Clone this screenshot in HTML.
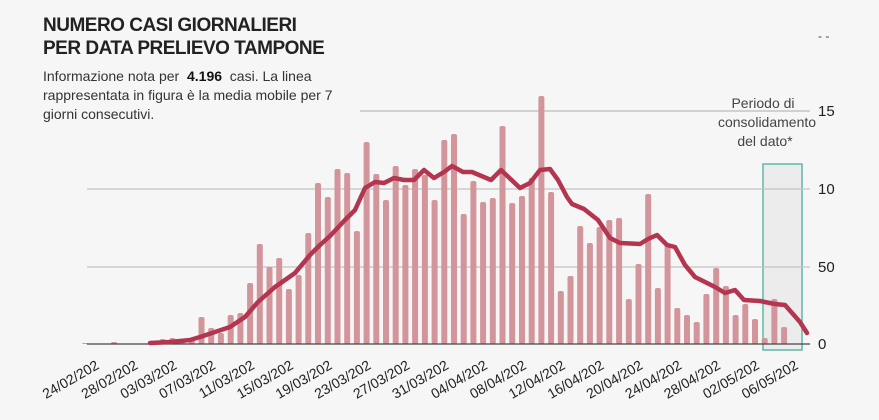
<!DOCTYPE html>
<html><head><meta charset="utf-8">
<style>
html,body{margin:0;padding:0;background:#f6f6f6;}
body{width:879px;height:420px;overflow:hidden;position:relative;font-family:"Liberation Sans",sans-serif;}
.t{position:absolute;left:43px;font-weight:bold;font-size:19px;color:#222;letter-spacing:-0.5px;line-height:23px;}
.s{position:absolute;left:43px;top:67px;font-size:14px;color:#333;line-height:19px;}
</style></head><body>
<div class="t" style="top:14px">NUMERO CASI GIORNALIERI<br>PER DATA PRELIEVO TAMPONE</div>
<div class="s">Informazione nota per &nbsp;<b style="color:#111">4.196</b> &nbsp;casi. La linea<br>rappresentata in figura è la media mobile per 7<br>giorni consecutivi.</div>
<svg id="c" width="879" height="420" style="position:absolute;left:0;top:0" xmlns="http://www.w3.org/2000/svg"></svg>
<script>
const h=[1,0,0,2,0,0,0,3,5,6,4,5,27,16,11,29,31,61,100,77,86,55,69,111,161,147,175,171,113,202,170,144,178,159,175,169,144,204,210,130,163,142,146,218,141,148,166,248,152,53,68,118,101,117,124,126,45,80,150,56,101,36,29,22,50,76,58,29,40,25,6,45,17];
const dates=["24/02","28/02","03/03","07/03","11/03","15/03","19/03","23/03","27/03","31/03","04/04","08/04","12/04","16/04","20/04","24/04","28/04","02/05","06/05"];
let s='';
s+='<rect x="763" y="164" width="39" height="186" fill="#ececec" stroke="#5db8a6" stroke-width="1.5"/>';
s+='<line x1="360" y1="111" x2="810" y2="111" stroke="#bbb" stroke-width="1.3"/>';
s+='<line x1="87" y1="189" x2="810" y2="189" stroke="#c4c4c4" stroke-width="1.3"/>';
s+='<line x1="87" y1="267" x2="810" y2="267" stroke="#c4c4c4" stroke-width="1.3"/>';
for(let i=0;i<h.length;i++){const x=85+9.71*i;if(h[i]>0)s+=`<rect x="${(x-3).toFixed(1)}" y="${344-h[i]}" width="6" height="${h[i]}" rx="2" fill="#d2959c"/>`;}
s+='<line x1="87" y1="344" x2="810" y2="344" stroke="#444" stroke-width="1.3"/>';
const L=[[150,343],[170,342],[190,340],[200,337],[215,332],[230,327],[245,317],[258,302],[275,287],[295,273],[310,255],[320,245],[330,236],[345,220],[355,210],[365,188],[375,182],[384,183],[394,178],[404,180],[414,180],[424,170],[434,178],[444,172],[452,166],[463,172],[472,172],[491,180],[501,170],[520,188],[530,183],[540,170],[550,169],[558,180],[567,197],[572,204],[584,209],[598,220],[610,238],[620,243],[640,244],[648,239],[657,235],[667,245],[675,247],[685,265],[695,277],[705,282],[715,287],[725,293],[735,290],[744,300],[760,301],[775,304],[785,305],[800,322],[807,333]];
s+=`<polyline points="${L.map(p=>p.join(',')).join(' ')}" fill="none" stroke="#b3354f" stroke-width="4.5" stroke-linejoin="round" stroke-linecap="round"/>`;
const yl=[["15",111],["10",189],["50",267],["0",344]];
for(const [t,y] of yl)s+=`<text x="818" y="${y+5}" font-size="15" fill="#222" font-family="Liberation Sans,sans-serif">${t}</text>`;
s+='<text x="818" y="40" font-size="12" fill="#444">- -</text>';
s+='<g font-size="14" fill="#444" text-anchor="middle" font-family="Liberation Sans,sans-serif"><text x="763" y="108">Periodo di</text><text x="767" y="127">consolidamento</text><text x="765" y="146">del dato*</text></g>';
for(let k=0;k<dates.length;k++){const x=85+9.71*4*k+15,y=368;s+=`<text transform="translate(${x.toFixed(1)},${y}) rotate(-30)" text-anchor="end" font-size="14" fill="#222" font-family="Liberation Sans,sans-serif">${dates[k]}/202</text>`;}
document.getElementById('c').innerHTML=s;
</script>
</body></html>
